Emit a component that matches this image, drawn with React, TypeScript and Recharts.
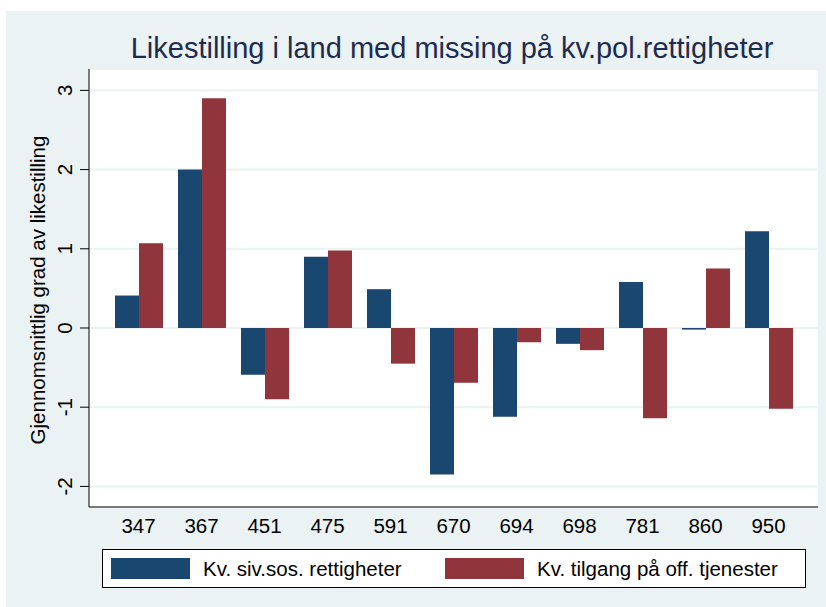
import { BarChart, Bar, XAxis, YAxis, CartesianGrid } from "recharts";

const categories = ["347", "367", "451", "475", "591", "670", "694", "698", "781", "860", "950"];
const sivSos = [0.41, 2.0, -0.59, 0.9, 0.49, -1.85, -1.12, -0.2, 0.58, -0.02, 1.22];
const tilgang = [1.07, 2.9, -0.9, 0.98, -0.45, -0.69, -0.18, -0.28, -1.14, 0.75, -1.02];
const yTicks = [-2, -1, 0, 1, 2, 3];

const seriesNames = ["Kv. siv.sos. rettigheter", "Kv. tilgang på off. tjenester"];
const seriesColors = ["#1a476f", "#90353b"];

const titleText = "Likestilling i land med missing på kv.pol.rettigheter";
const yLabelText = "Gjennomsnittlig grad av likestilling";

const data = categories.map((c, i) => ({ id: c, siv: sivSos[i], tilgang: tilgang[i] }));

const FONT = "'Liberation Sans', Arimo, Arial, Helvetica, sans-serif";
const BG = "#eaf2f3";

const YTick = (props: any) => {
  const { x, y, payload } = props;
  const bx = x - 6;
  return (
    <text
      x={bx}
      y={y}
      transform={`rotate(-90, ${bx}, ${y})`}
      textAnchor="middle"
      fontSize={20.5}
      fontFamily={FONT}
      fill="#000"
    >
      {payload.value}
    </text>
  );
};

const XTick = (props: any) => {
  const { x, payload } = props;
  return (
    <text x={x} y={533} textAnchor="middle" fontSize={20.5} fontFamily={FONT} fill="#000">
      {payload.value}
    </text>
  );
};

const YLabel = () => (
  <text
    x={45}
    y={290}
    transform="rotate(-90, 45, 290)"
    textAnchor="middle"
    fontSize={20.5}
    fontFamily={FONT}
    fill="#000"
  >
    {yLabelText}
  </text>
);

export default function App() {
  const legendX = [111, 445];
  return (
    <div style={{ position: "absolute", left: 0, top: 0, width: 826, height: 607, background: "#fff" }}>
      <div style={{ position: "absolute", left: 6, top: 11, width: 820, height: 596, background: BG }} />
      <div style={{ position: "absolute", left: 0, top: 0 }}>
        <BarChart
          width={826}
          height={607}
          data={data}
          margin={{ top: 69, right: 8, bottom: 0, left: 0 }}
          barGap={0}
          barSize={24}
        >
          <CartesianGrid horizontal vertical={false} stroke={BG} strokeWidth={2} fill="#fff" />
          <XAxis
            dataKey="id"
            height={100}
            padding={{ left: 18, right: 18 }}
            tickLine={false}
            axisLine={{ stroke: "#000", strokeWidth: 1 }}
            tick={<XTick />}
            interval={0}
          />
          <YAxis
            width={89}
            domain={[-2.26, 3.27]}
            ticks={yTicks}
            allowDataOverflow
            tickSize={9}
            tickLine={{ stroke: "#000" }}
            axisLine={{ stroke: "#000", strokeWidth: 1 }}
            tick={<YTick />}
            label={<YLabel />}
          />
          <Bar dataKey="siv" name={seriesNames[0]} fill={seriesColors[0]} isAnimationActive={false} />
          <Bar dataKey="tilgang" name={seriesNames[1]} fill={seriesColors[1]} isAnimationActive={false} />
        </BarChart>
      </div>
      <svg
        width={826}
        height={607}
        style={{ position: "absolute", left: 0, top: 0, pointerEvents: "none" }}
      >
        <text x={452} y={58} textAnchor="middle" fontSize={29} fontFamily={FONT} fill="#1e2b50">
          {titleText}
        </text>
        <rect x={102.5} y={549.5} width={703} height={38} fill="#fff" stroke="#000" strokeWidth={1} />
        {seriesNames.map((name, i) => (
          <g key={name}>
            <rect x={legendX[i]} y={558} width={79} height={21} fill={seriesColors[i]} />
            <text
              x={legendX[i] + 92}
              y={576}
              fontSize={20.5}
              fontFamily={FONT}
              fill="#000"
            >
              {name}
            </text>
          </g>
        ))}
      </svg>
    </div>
  );
}
